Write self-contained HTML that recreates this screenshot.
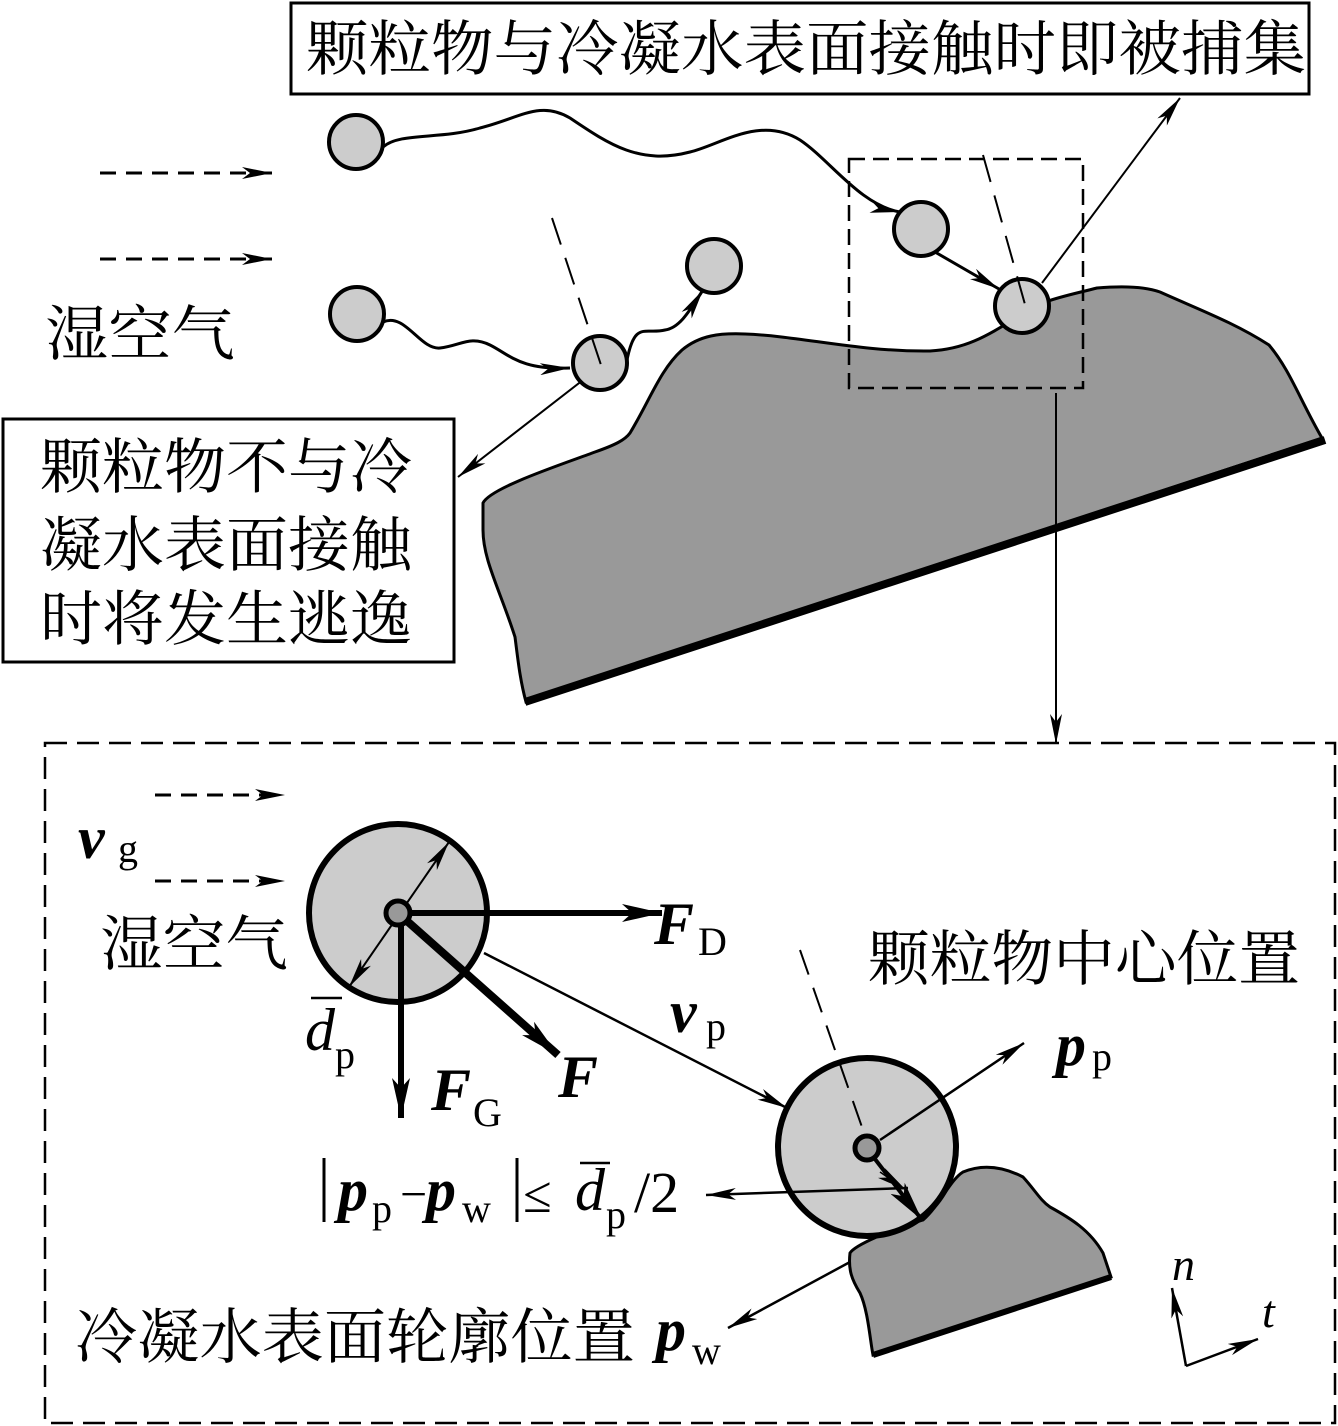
<!DOCTYPE html>
<html><head><meta charset="utf-8"><style>
body{margin:0;background:#fff}
svg{display:block}
.cn{font-family:"Liberation Serif","Noto Serif CJK SC","Noto Sans CJK SC",serif;font-size:56px;fill:#000}
.m{font-family:"Liberation Serif",serif;fill:#000}
</style></head><body>
<svg width="1338" height="1426" viewBox="0 0 1338 1426" xmlns="http://www.w3.org/2000/svg">
<defs>
<marker id="a" viewBox="0 0 30 12" refX="30" refY="6" markerWidth="30" markerHeight="12" markerUnits="userSpaceOnUse" orient="auto"><path d="M0,0 L30,6 L0,12 L8,6 Z" fill="#000"/></marker>
<marker id="ab" viewBox="0 0 40 18" refX="40" refY="9" markerWidth="40" markerHeight="18" markerUnits="userSpaceOnUse" orient="auto"><path d="M0,0 L40,9 L0,18 L10,9 Z" fill="#000"/></marker>
</defs>
<g fill="none" stroke="#000">
<rect x="291" y="3" width="1018" height="91" stroke-width="3"/>
<rect x="3" y="419" width="451" height="243" stroke-width="3"/>
<path d="M483,503 C490,488 560,465 595,452 C615,445 625,440 630,433 C650,400 660,370 682,350 C700,335 720,333 745,334 C800,336 860,352 930,351 C965,349 985,337 1016,318 C1040,300 1062,297 1097,288 C1120,286 1143,286 1160,292 C1200,310 1235,323 1269,345 C1290,370 1300,400 1322,438 L526,702 C520,680 518,660 515,637 C500,590 483,560 483,530 Z" fill="#999" stroke-width="3"/>
<line x1="1325" y1="440" x2="525" y2="702" stroke-width="8"/>
<rect x="849" y="159" width="234" height="229" stroke-width="2.5" stroke-dasharray="16,8"/>
<line x1="100" y1="173" x2="272" y2="173" stroke-width="3" stroke-dasharray="16,10" marker-end="url(#a)"/>
<line x1="100" y1="259" x2="272" y2="259" stroke-width="3" stroke-dasharray="16,10" marker-end="url(#a)"/>
<path d="M383,147 C400,132 440,140 480,128 C520,118 540,100 570,118 C610,145 640,165 690,152 C720,145 760,115 800,140 C830,160 860,205 900,212" stroke-width="3" marker-end="url(#a)"/>
<path d="M383,322 C405,312 420,350 440,348 C460,346 470,335 490,345 C510,355 520,370 570,368" stroke-width="3" marker-end="url(#a)"/>
<path d="M627,360 C635,320 645,335 665,330 C680,328 690,310 703,290" stroke-width="3" marker-end="url(#a)"/>
<line x1="935" y1="252" x2="999" y2="289" stroke-width="3" marker-end="url(#a)"/>
<line x1="1042" y1="283" x2="1180" y2="98" stroke-width="2" marker-end="url(#a)"/>
<line x1="583" y1="380" x2="458" y2="477" stroke-width="2" marker-end="url(#a)"/>
<line x1="1056" y1="393" x2="1056" y2="744" stroke-width="2" marker-end="url(#a)"/>
<g fill="#ccc" stroke-width="4">
<circle cx="356" cy="142" r="27"/><circle cx="357" cy="314" r="27"/>
<circle cx="714" cy="266" r="27"/><circle cx="600" cy="363" r="27"/>
<circle cx="921" cy="229" r="27"/><circle cx="1022" cy="306" r="27"/>
</g>
<line x1="552" y1="218" x2="602" y2="368" stroke-width="2" stroke-dasharray="28,14"/>
<line x1="983" y1="155" x2="1026" y2="308" stroke-width="2" stroke-dasharray="28,14"/>
<rect x="45" y="743" width="1290" height="680" stroke-width="2.5" stroke-dasharray="22,10"/>
<line x1="155" y1="795" x2="285" y2="795" stroke-width="3" stroke-dasharray="16,10" marker-end="url(#a)"/>
<line x1="155" y1="881" x2="285" y2="881" stroke-width="3" stroke-dasharray="16,10" marker-end="url(#a)"/>
<circle cx="398" cy="913" r="89" fill="#ccc" stroke-width="6"/>
<line x1="400" y1="913" x2="349" y2="987" stroke-width="2" marker-end="url(#a)"/>
<line x1="400" y1="913" x2="449" y2="842" stroke-width="2" marker-end="url(#a)"/>
<line x1="398" y1="913" x2="662" y2="913" stroke-width="6" marker-end="url(#ab)"/>
<line x1="398" y1="913" x2="558" y2="1055" stroke-width="8" marker-end="url(#ab)"/>
<line x1="401" y1="913" x2="401" y2="1118" stroke-width="6" marker-end="url(#ab)"/>
<circle cx="398" cy="913" r="12" fill="#999" stroke-width="5"/>
<line x1="484" y1="953" x2="787" y2="1108" stroke-width="2.5" marker-end="url(#a)"/>
<path d="M850,1253 C855,1245 890,1230 923,1220 C940,1205 950,1180 963,1172 C980,1165 1000,1165 1023,1177 C1035,1190 1040,1200 1050,1207 C1070,1218 1090,1230 1103,1253 L1111,1277 L873,1355 C870,1340 868,1310 860,1293 C852,1280 848,1270 850,1253 Z" fill="#999" stroke-width="3"/>
<line x1="1111" y1="1277" x2="873" y2="1355" stroke-width="6"/>
<circle cx="867" cy="1147" r="89" fill="#ccc" stroke-width="6"/>
<line x1="800" y1="950" x2="870" y2="1150" stroke-width="2" stroke-dasharray="26,14"/>
<line x1="880" y1="1140" x2="1024" y2="1043" stroke-width="2.5" marker-end="url(#a)"/>
<line x1="868" y1="1150" x2="922" y2="1220" stroke-width="4" marker-end="url(#ab)"/>
<line x1="908" y1="1188" x2="706" y2="1195" stroke-width="2.5" marker-end="url(#a)"/>
<line x1="880" y1="1172" x2="906" y2="1190" stroke-width="1.5" marker-end="url(#a)"/>
<circle cx="867" cy="1148" r="12" fill="#999" stroke-width="5"/>
<line x1="850" y1="1262" x2="728" y2="1328" stroke-width="2.5" marker-end="url(#a)"/>
<line x1="1186" y1="1366" x2="1172" y2="1288" stroke-width="2.5" marker-end="url(#a)"/>
<line x1="1186" y1="1366" x2="1258" y2="1339" stroke-width="2.5" marker-end="url(#a)"/>
<line x1="324" y1="1158" x2="324" y2="1222" stroke-width="3"/>
<line x1="517" y1="1158" x2="517" y2="1222" stroke-width="3"/>
<line x1="311" y1="998" x2="342" y2="998" stroke-width="2.5"/>
<line x1="580" y1="1163" x2="610" y2="1163" stroke-width="2.5"/>
</g>
<text class="cn" x="306" y="70" textLength="1000" lengthAdjust="spacingAndGlyphs" style="font-size:60px">颗粒物与冷凝水表面接触时即被捕集</text>
<text class="cn" x="40" y="488" style="font-size:60px" textLength="372" lengthAdjust="spacingAndGlyphs">颗粒物不与冷</text>
<text class="cn" x="40" y="566" style="font-size:60px" textLength="372" lengthAdjust="spacingAndGlyphs">凝水表面接触</text>
<text class="cn" x="40" y="640" style="font-size:60px" textLength="372" lengthAdjust="spacingAndGlyphs">时将发生逃逸</text>
<text class="cn" x="45" y="355" style="font-size:60px" textLength="190" lengthAdjust="spacingAndGlyphs">湿空气</text>
<text class="cn" x="100" y="965" style="font-size:60px" textLength="188" lengthAdjust="spacingAndGlyphs">湿空气</text>
<text class="cn" x="868" y="980" style="font-size:60px" textLength="432" lengthAdjust="spacingAndGlyphs">颗粒物中心位置</text>
<text class="cn" x="75" y="1358" style="font-size:60px" textLength="560" lengthAdjust="spacingAndGlyphs">冷凝水表面轮廓位置</text>
<g class="m">
<text x="78" y="858" font-size="60" font-style="italic" font-weight="bold">v</text><text x="118" y="862" font-size="40">g</text>
<text x="654" y="944" font-size="60" font-style="italic" font-weight="bold">F</text><text x="698" y="955" font-size="40">D</text>
<text x="558" y="1097" font-size="60" font-style="italic" font-weight="bold">F</text>
<text x="431" y="1110" font-size="60" font-style="italic" font-weight="bold">F</text><text x="473" y="1126" font-size="40">G</text>
<text x="305" y="1050" font-size="60" font-style="italic">d</text><text x="335" y="1068" font-size="40">p</text>
<text x="670" y="1032" font-size="60" font-style="italic" font-weight="bold">v</text><text x="706" y="1040" font-size="40">p</text>
<text x="1056" y="1065" font-size="60" font-style="italic" font-weight="bold">p</text><text x="1092" y="1070" font-size="40">p</text>
<text x="338" y="1210" font-size="60" font-style="italic" font-weight="bold">p</text><text x="372" y="1222" font-size="40">p</text>
<text x="400" y="1210" font-size="48">−</text>
<text x="426" y="1210" font-size="60" font-style="italic" font-weight="bold">p</text><text x="462" y="1222" font-size="40">w</text>
<text x="523" y="1212" font-size="52">≤</text>
<text x="575" y="1210" font-size="60" font-style="italic">d</text><text x="606" y="1228" font-size="40">p</text>
<text x="634" y="1212" font-size="58">/2</text>
<text x="656" y="1350" font-size="60" font-style="italic" font-weight="bold">p</text><text x="692" y="1364" font-size="40">w</text>
<text x="1172" y="1280" font-size="46" font-style="italic">n</text>
<text x="1262" y="1327" font-size="46" font-style="italic">t</text>
</g>
</svg>
</body></html>
